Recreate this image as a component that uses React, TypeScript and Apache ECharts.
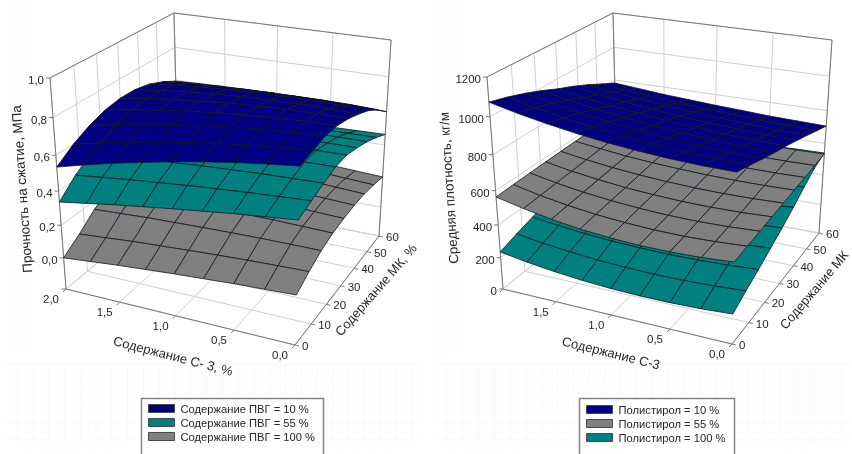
import React, { useEffect, useRef } from "react";
import * as echarts from "echarts";

const FONT = '"Liberation Sans", Arial, sans-serif';
const TEXT = "#262626";
const BLUE = "#000080";
const TEAL = "#008080";
const GREY = "#808080";

// C-3 content ticks (value, label), MK content ticks
const cTicks = [2, 1.5, 1, 0.5, 0];
const cLabelsLeft = ["2,0", "1,5", "1,0", "0,5", "0,0"];
const cLabelsRight = ["", "1,5", "1,0", "0,5", "0,0"];
const mkTicks = [0, 10, 20, 30, 40, 50, 60];
const zTicksLeft = [-0.2, 0, 0.2, 0.4, 0.6, 0.8, 1];
const zLabelsLeft = ["", "0,0", "0,2", "0,4", "0,6", "0,8", "1,0"];
const zTicksRight = [0, 200, 400, 600, 800, 1000, 1200];
const zLabelsRight = ["0", "200", "400", "600", "800", "1000", "1200"];

// Surface grid nodes: columns follow C-3 from 2.0 to 0.0, rows follow MK from 0 to 60
const gridC = [2, 1.75, 1.5, 1.25, 1, 0.75, 0.5, 0.25, 0];
const gridMK = [0, 7.5, 15, 22.5, 30, 37.5, 45, 52.5, 60];

const strength10 = [
  [0.535, 0.576, 0.614, 0.648, 0.681, 0.709, 0.735, 0.757, 0.776],
  [0.6, 0.635, 0.667, 0.694, 0.72, 0.742, 0.762, 0.777, 0.79],
  [0.647, 0.678, 0.706, 0.729, 0.751, 0.769, 0.785, 0.796, 0.805],
  [0.679, 0.705, 0.728, 0.747, 0.765, 0.778, 0.789, 0.796, 0.8],
  [0.694, 0.716, 0.734, 0.749, 0.762, 0.771, 0.778, 0.78, 0.78],
  [0.692, 0.71, 0.726, 0.737, 0.746, 0.751, 0.755, 0.754, 0.75],
  [0.674, 0.69, 0.703, 0.712, 0.72, 0.723, 0.724, 0.721, 0.715],
  [0.639, 0.651, 0.66, 0.666, 0.67, 0.672, 0.673, 0.671, 0.665],
  [0.593, 0.6, 0.605, 0.608, 0.61, 0.609, 0.608, 0.605, 0.6],
];
const strength55 = [
  [0.337, 0.362, 0.387, 0.409, 0.431, 0.451, 0.471, 0.488, 0.505],
  [0.425, 0.443, 0.46, 0.475, 0.49, 0.503, 0.515, 0.525, 0.535],
  [0.487, 0.5, 0.513, 0.523, 0.534, 0.542, 0.55, 0.555, 0.56],
  [0.525, 0.536, 0.548, 0.556, 0.564, 0.57, 0.577, 0.58, 0.583],
  [0.537, 0.547, 0.557, 0.564, 0.571, 0.576, 0.581, 0.583, 0.585],
  [0.527, 0.536, 0.544, 0.55, 0.556, 0.56, 0.564, 0.564, 0.565],
  [0.5, 0.509, 0.518, 0.524, 0.53, 0.534, 0.538, 0.539, 0.54],
  [0.455, 0.465, 0.476, 0.483, 0.49, 0.495, 0.501, 0.503, 0.505],
  [0.4, 0.412, 0.424, 0.433, 0.443, 0.45, 0.457, 0.461, 0.465],
];
const strength100 = [
  [0, 0.016, 0.032, 0.045, 0.058, 0.069, 0.08, 0.088, 0.096],
  [0.07, 0.083, 0.097, 0.107, 0.117, 0.126, 0.134, 0.14, 0.145],
  [0.15, 0.158, 0.167, 0.172, 0.177, 0.181, 0.184, 0.185, 0.185],
  [0.21, 0.214, 0.218, 0.219, 0.22, 0.219, 0.218, 0.214, 0.21],
  [0.25, 0.25, 0.251, 0.249, 0.246, 0.241, 0.237, 0.229, 0.222],
  [0.27, 0.269, 0.268, 0.264, 0.26, 0.253, 0.247, 0.238, 0.229],
  [0.275, 0.273, 0.271, 0.266, 0.262, 0.255, 0.248, 0.238, 0.228],
  [0.265, 0.263, 0.261, 0.256, 0.25, 0.243, 0.236, 0.226, 0.216],
  [0.24, 0.239, 0.238, 0.234, 0.23, 0.223, 0.217, 0.208, 0.199],
];
const density10 = [
  [1075, 1043, 1016, 993, 974, 960, 950, 944, 943],
  [1050, 1019, 991, 968, 949, 934, 923, 917, 914],
  [1020, 990, 964, 941, 922, 907, 896, 888, 884],
  [985, 957, 931, 910, 892, 878, 866, 859, 855],
  [945, 920, 897, 879, 863, 850, 840, 833, 830],
  [910, 886, 866, 848, 833, 820, 811, 804, 800],
  [870, 849, 832, 815, 802, 790, 782, 774, 770],
  [825, 808, 793, 779, 767, 758, 750, 743, 738],
  [781, 768, 754, 744, 734, 726, 717, 712, 707],
];
const density55 = [
  [564, 529, 501, 479, 465, 457, 457, 463, 476],
  [568, 535, 509, 489, 476, 468, 466, 472, 483],
  [571, 541, 517, 499, 486, 478, 476, 480, 490],
  [574, 546, 525, 507, 496, 488, 486, 489, 497],
  [576, 552, 532, 517, 506, 499, 496, 498, 504],
  [578, 558, 540, 527, 517, 510, 507, 507, 511],
  [578, 561, 546, 535, 527, 520, 517, 516, 519],
  [578, 564, 551, 542, 534, 528, 525, 524, 526],
  [575, 563, 553, 545, 539, 535, 533, 531, 533],
];
const density100 = [
  [236, 210, 190, 175, 165, 161, 162, 168, 180],
  [270, 246, 229, 215, 208, 204, 206, 213, 225],
  [300, 280, 263, 252, 246, 243, 246, 253, 265],
  [330, 314, 300, 292, 287, 287, 290, 299, 310],
  [365, 352, 341, 335, 332, 333, 337, 344, 355],
  [400, 390, 383, 379, 379, 380, 386, 393, 405],
  [435, 429, 426, 425, 428, 432, 439, 448, 460],
  [470, 467, 468, 469, 473, 478, 485, 494, 510],
  [505, 505, 506, 510, 517, 525, 532, 537, 540],
];

type Pt = [number, number];
type Quad = [Pt, Pt, Pt, Pt];

function homography(q: Quad) {
  const [[x0, y0], [x1, y1], [x2, y2], [x3, y3]] = q;
  const dx1 = x1 - x2, dx2 = x3 - x2, sx = x0 - x1 + x2 - x3;
  const dy1 = y1 - y2, dy2 = y3 - y2, sy = y0 - y1 + y2 - y3;
  const den = dx1 * dy2 - dx2 * dy1;
  const g = (sx * dy2 - dx2 * sy) / den;
  const h = (dx1 * sy - sx * dy1) / den;
  const a = x1 - x0 + g * x1, b = x3 - x0 + h * x3;
  const d = y1 - y0 + g * y1, e = y3 - y0 + h * y3;
  return (u: number, v: number): Pt => {
    const s = g * u + h * v + 1;
    return [(a * u + b * v + x0) / s, (d * u + e * v + y0) / s];
  };
}

function camera(floor: Quad, ceiling: Quad, zMin: number, zMax: number) {
  const hf = homography(floor), hc = homography(ceiling);
  return (c: number, mk: number, z: number): Pt => {
    const u = (2 - c) / 2, v = mk / 60, w = (z - zMin) / (zMax - zMin);
    const t = w / (w + (1 - w) * 1.155);
    const p = hf(u, v), q = hc(u, v);
    return [p[0] + (q[0] - p[0]) * t, p[1] + (q[1] - p[1]) * t];
  };
}

const camLeft = camera(
  [[66, 289], [295, 345], [379, 236], [178.5, 196]],
  [[50, 78], [301, 118.6], [391, 40], [174, 13]],
  -0.2, 1
);
const camRight = camera(
  [[503, 289], [732, 344], [819, 233], [617.5, 196]],
  [[487, 77], [738, 118], [832, 40], [613, 13]],
  0, 1200
);

function surfaceSeries(name: string, color: string, table: number[][], cam: any, z: number) {
  const data: number[][] = [];
  for (let j = 7; j >= 0; j--) {
    for (let i = 0; i < 8; i++) {
      data.push([i, j, table[j][i], table[j][i + 1], table[j + 1][i + 1], table[j + 1][i]]);
    }
  }
  return {
    type: "custom",
    name,
    z,
    clip: false,
    silent: true,
    coordinateSystem: "cartesian2d",
    encode: { x: 0, y: 1 },
    itemStyle: { color },
    data,
    renderItem: (_: any, api: any) => {
      const i = api.value(0), j = api.value(1);
      const nodes = [
        [gridC[i], gridMK[j], api.value(2)],
        [gridC[i + 1], gridMK[j], api.value(3)],
        [gridC[i + 1], gridMK[j + 1], api.value(4)],
        [gridC[i], gridMK[j + 1], api.value(5)],
      ];
      return {
        type: "polygon",
        shape: { points: nodes.map((n) => api.coord(cam(n[0], n[1], n[2]))) },
        style: { fill: color, stroke: "#14161c", lineWidth: 0.8 },
      };
    },
  };
}

function boxSeries(
  cam: any, zTicks: number[], zLabels: string[], cLabels: string[],
  titles: { text: string; x: number; y: number; deg: number; size: number }[]
) {
  return {
    type: "custom",
    name: "axes",
    z: 1,
    clip: false,
    silent: true,
    coordinateSystem: "cartesian2d",
    encode: { x: 0, y: 1 },
    data: [[0, 0]],
    renderItem: (_: any, api: any) => {
      const children: any[] = [];
      const zLo = zTicks[0], zHi = zTicks[zTicks.length - 1];
      const seg = (a: Pt, b: Pt, stroke: string, lw = 1) => {
        const p = api.coord(a), q = api.coord(b);
        children.push({
          type: "line",
          shape: { x1: p[0], y1: p[1], x2: q[0], y2: q[1] },
          style: { stroke, lineWidth: lw },
        });
      };
      const text = (s: string, p: Pt, align: string) => {
        const q = api.coord(p);
        children.push({
          type: "text", x: q[0], y: q[1],
          style: { text: s, fontSize: 11.5, fontFamily: FONT, fill: TEXT, align, verticalAlign: "middle" },
        });
      };
      const LIGHT = "#cfcfcf", DARK = "#777777";
      mkTicks.forEach((m) => {
        seg(cam(2, m, zLo), cam(2, m, zHi), LIGHT);
        seg(cam(2, m, zLo), cam(0, m, zLo), LIGHT);
      });
      cTicks.forEach((c) => {
        seg(cam(c, 60, zLo), cam(c, 60, zHi), LIGHT);
        seg(cam(c, 0, zLo), cam(c, 60, zLo), LIGHT);
      });
      zTicks.forEach((z) => {
        seg(cam(2, 0, z), cam(2, 60, z), LIGHT);
        seg(cam(2, 60, z), cam(0, 60, z), LIGHT);
      });
      seg(cam(2, 0, zHi), cam(2, 60, zHi), DARK);
      seg(cam(2, 60, zHi), cam(0, 60, zHi), DARK);
      seg(cam(2, 60, zLo), cam(2, 60, zHi), DARK);
      seg(cam(2, 0, zLo), cam(2, 0, zHi), DARK);
      seg(cam(0, 60, zLo), cam(0, 60, zHi), DARK);
      seg(cam(2, 0, zLo), cam(0, 0, zLo), DARK);
      seg(cam(0, 0, zLo), cam(0, 60, zLo), DARK);
      zTicks.forEach((z, k) => {
        const p = cam(2, 0, z);
        seg(p, [p[0] - 4, p[1]], DARK);
        if (zLabels[k]) text(zLabels[k], [p[0] - 6, p[1] + 2], "right");
      });
      cTicks.forEach((c, k) => {
        const p = cam(c, 0, zLo);
        seg(p, [p[0] - 3, p[1] + 3], DARK);
        if (cLabels[k]) text(cLabels[k], [p[0] - 15, p[1] + 10], "center");
      });
      mkTicks.forEach((m) => {
        const p = cam(0, m, zLo);
        seg(p, [p[0] + 4, p[1] + 1], DARK);
        text(String(m), [p[0] + 7, p[1] + 1], "left");
      });
      titles.forEach((t) => {
        const q = api.coord([t.x, t.y]);
        children.push({
          type: "text", x: q[0], y: q[1], rotation: (t.deg * Math.PI) / 180,
          style: {
            text: t.text, fontSize: t.size, fontFamily: FONT, fill: TEXT,
            align: "center", verticalAlign: "middle",
          },
        });
      });
      return { type: "group", children };
    },
  };
}

const paperSeries = {
  type: "custom",
  name: "paper",
  z: 0,
  clip: false,
  silent: true,
  coordinateSystem: "cartesian2d",
  encode: { x: 0, y: 1 },
  data: [[0, 0]],
  renderItem: (_: any, api: any) => {
    const children: any[] = [];
    const seg = (a: Pt, b: Pt) => {
      const p = api.coord(a), q = api.coord(b);
      children.push({
        type: "line",
        shape: { x1: p[0], y1: p[1], x2: q[0], y2: q[1] },
        style: { stroke: "#effcfb", lineWidth: 1 },
      });
    };
    for (const [x0, x1] of [[6, 420], [436, 850]]) {
      for (let x = x0 + 11; x < x1; x += 15.8) seg([x, 364], [x, 443]);
      for (const y of [364, 376, 392, 408, 423, 439]) seg([x0, y], [x1, y]);
      for (let y = 8; y < 360; y += 16) seg([x0, y], [x0 + 26, y]);
    }
    for (const [x, w] of [[141.5, 182], [579.5, 155]]) {
      const p = api.coord([x, 398.5]);
      children.push({
        type: "rect",
        shape: { x: p[0], y: p[1], width: w, height: 70 },
        style: { fill: "#ffffff", stroke: "#858585", lineWidth: 1.5 },
      });
    }
    return { type: "group", children };
  },
};

const legendBase = {
  orient: "vertical",
  selectedMode: false,
  itemWidth: 26,
  itemHeight: 8,
  itemGap: 3,
  icon: "rect",
  itemStyle: { borderColor: "#4a4a4a", borderWidth: 1 },
  textStyle: { fontSize: 11.2, fontFamily: FONT, color: TEXT, padding: [0, 0, 0, 1] },
};

const leftNames = ["Содержание ПВГ = 10 %", "Содержание ПВГ = 55 %", "Содержание ПВГ = 100 %"];
const rightNames = ["Полистирол = 10 %", "Полистирол = 55 %", "Полистирол = 100 %"];

export default function App() {
  const ref = useRef<HTMLDivElement>(null);
  useEffect(() => {
    const chart = echarts.init(ref.current!, undefined, { renderer: "svg" });
    chart.setOption({
      animation: false,
      backgroundColor: "#ffffff",
      grid: { left: 0, right: 0, top: 0, bottom: 0 },
      xAxis: { type: "value", min: 0, max: 852, show: false },
      yAxis: { type: "value", min: 0, max: 454, inverse: true, show: false },
      legend: [
        { ...legendBase, left: 141, top: 398, padding: [5, 8, 4, 7], data: leftNames },
        { ...legendBase, left: 579, top: 399, padding: [5, 8, 4, 7], data: rightNames },
      ],
      series: [
        paperSeries,
        boxSeries(camLeft, zTicksLeft, zLabelsLeft, cLabelsLeft, [
          { text: "Прочность на сжатие, МПа", x: 22, y: 189, deg: 94, size: 13.4 },
          { text: "Содержание С- 3, %", x: 173, y: 356, deg: -14.6, size: 13 },
          { text: "Содержание МК, %", x: 376, y: 290, deg: 49, size: 13 },
        ]),
        boxSeries(camRight, zTicksRight, zLabelsRight, cLabelsRight, [
          { text: "Средняя плотность, кг/м", x: 449, y: 188, deg: 93.7, size: 13.4 },
          { text: "Содержание С-3", x: 611, y: 353, deg: -14, size: 13 },
          { text: "Содержание МК", x: 814, y: 290, deg: 49.6, size: 13 },
        ]),
        surfaceSeries(leftNames[2], GREY, strength100, camLeft, 2),
        surfaceSeries(leftNames[1], TEAL, strength55, camLeft, 3),
        surfaceSeries(leftNames[0], BLUE, strength10, camLeft, 4),
        surfaceSeries(rightNames[2], TEAL, density100, camRight, 2),
        surfaceSeries(rightNames[1], GREY, density55, camRight, 3),
        surfaceSeries(rightNames[0], BLUE, density10, camRight, 4),
      ],
    });
    return () => chart.dispose();
  }, []);
  return (
    <div
      ref={ref}
      style={{ position: "fixed", left: 0, top: 0, width: 852, height: 454, filter: "blur(0.5px)" }}
    />
  );
}
